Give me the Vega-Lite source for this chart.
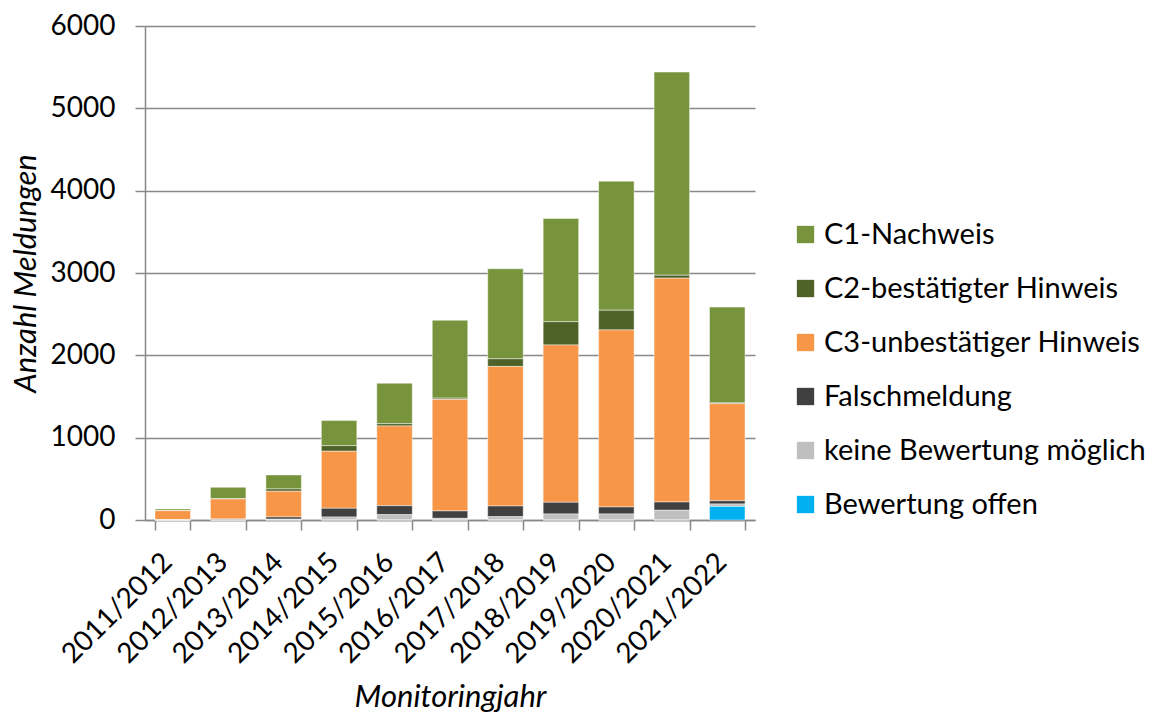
{
  "$schema": "https://vega.github.io/schema/vega-lite/v6.json",
  "width": 610,
  "height": 494,
  "autosize": "none",
  "padding": {"left": 145, "top": 26, "right": 406, "bottom": 193},
  "background": "white",
  "config": {
    "font": "Lato",
    "view": {"stroke": null},
    "axis": {
      "labelFont": "Lato",
      "titleFont": "Lato",
      "labelColor": "#000000",
      "titleColor": "#000000",
      "domainColor": "#888888",
      "tickColor": "#888888",
      "gridColor": "#888888",
      "domainWidth": 1.5,
      "tickWidth": 1.5,
      "gridWidth": 1.5
    }
  },
  "data": {
    "values": [
      {"jahr": "2011/2012", "kategorie": "C1-Nachweis", "anzahl": 20},
      {"jahr": "2011/2012", "kategorie": "C2-bestätigter Hinweis", "anzahl": 0},
      {"jahr": "2011/2012", "kategorie": "C3-unbestätiger Hinweis", "anzahl": 113},
      {"jahr": "2011/2012", "kategorie": "Falschmeldung", "anzahl": 0},
      {"jahr": "2011/2012", "kategorie": "keine Bewertung möglich", "anzahl": 0},
      {"jahr": "2011/2012", "kategorie": "Bewertung offen", "anzahl": 0},
      {"jahr": "2012/2013", "kategorie": "C1-Nachweis", "anzahl": 139},
      {"jahr": "2012/2013", "kategorie": "C2-bestätigter Hinweis", "anzahl": 3},
      {"jahr": "2012/2013", "kategorie": "C3-unbestätiger Hinweis", "anzahl": 243},
      {"jahr": "2012/2013", "kategorie": "Falschmeldung", "anzahl": 12},
      {"jahr": "2012/2013", "kategorie": "keine Bewertung möglich", "anzahl": 0},
      {"jahr": "2012/2013", "kategorie": "Bewertung offen", "anzahl": 0},
      {"jahr": "2013/2014", "kategorie": "C1-Nachweis", "anzahl": 170},
      {"jahr": "2013/2014", "kategorie": "C2-bestätigter Hinweis", "anzahl": 28},
      {"jahr": "2013/2014", "kategorie": "C3-unbestätiger Hinweis", "anzahl": 312},
      {"jahr": "2013/2014", "kategorie": "Falschmeldung", "anzahl": 27},
      {"jahr": "2013/2014", "kategorie": "keine Bewertung möglich", "anzahl": 10},
      {"jahr": "2013/2014", "kategorie": "Bewertung offen", "anzahl": 0},
      {"jahr": "2014/2015", "kategorie": "C1-Nachweis", "anzahl": 304},
      {"jahr": "2014/2015", "kategorie": "C2-bestätigter Hinweis", "anzahl": 68},
      {"jahr": "2014/2015", "kategorie": "C3-unbestätiger Hinweis", "anzahl": 693},
      {"jahr": "2014/2015", "kategorie": "Falschmeldung", "anzahl": 106},
      {"jahr": "2014/2015", "kategorie": "keine Bewertung möglich", "anzahl": 36},
      {"jahr": "2014/2015", "kategorie": "Bewertung offen", "anzahl": 0},
      {"jahr": "2015/2016", "kategorie": "C1-Nachweis", "anzahl": 491},
      {"jahr": "2015/2016", "kategorie": "C2-bestätigter Hinweis", "anzahl": 28},
      {"jahr": "2015/2016", "kategorie": "C3-unbestätiger Hinweis", "anzahl": 968},
      {"jahr": "2015/2016", "kategorie": "Falschmeldung", "anzahl": 109},
      {"jahr": "2015/2016", "kategorie": "keine Bewertung möglich", "anzahl": 65},
      {"jahr": "2015/2016", "kategorie": "Bewertung offen", "anzahl": 0},
      {"jahr": "2016/2017", "kategorie": "C1-Nachweis", "anzahl": 946},
      {"jahr": "2016/2017", "kategorie": "C2-bestätigter Hinweis", "anzahl": 15},
      {"jahr": "2016/2017", "kategorie": "C3-unbestätiger Hinweis", "anzahl": 1355},
      {"jahr": "2016/2017", "kategorie": "Falschmeldung", "anzahl": 90},
      {"jahr": "2016/2017", "kategorie": "keine Bewertung möglich", "anzahl": 20},
      {"jahr": "2016/2017", "kategorie": "Bewertung offen", "anzahl": 0},
      {"jahr": "2017/2018", "kategorie": "C1-Nachweis", "anzahl": 1093},
      {"jahr": "2017/2018", "kategorie": "C2-bestätigter Hinweis", "anzahl": 93},
      {"jahr": "2017/2018", "kategorie": "C3-unbestätiger Hinweis", "anzahl": 1695},
      {"jahr": "2017/2018", "kategorie": "Falschmeldung", "anzahl": 130},
      {"jahr": "2017/2018", "kategorie": "keine Bewertung möglich", "anzahl": 40},
      {"jahr": "2017/2018", "kategorie": "Bewertung offen", "anzahl": 0},
      {"jahr": "2018/2019", "kategorie": "C1-Nachweis", "anzahl": 1252},
      {"jahr": "2018/2019", "kategorie": "C2-bestätigter Hinweis", "anzahl": 283},
      {"jahr": "2018/2019", "kategorie": "C3-unbestätiger Hinweis", "anzahl": 1911},
      {"jahr": "2018/2019", "kategorie": "Falschmeldung", "anzahl": 142},
      {"jahr": "2018/2019", "kategorie": "keine Bewertung möglich", "anzahl": 73},
      {"jahr": "2018/2019", "kategorie": "Bewertung offen", "anzahl": 0},
      {"jahr": "2019/2020", "kategorie": "C1-Nachweis", "anzahl": 1567},
      {"jahr": "2019/2020", "kategorie": "C2-bestätigter Hinweis", "anzahl": 239},
      {"jahr": "2019/2020", "kategorie": "C3-unbestätiger Hinweis", "anzahl": 2151},
      {"jahr": "2019/2020", "kategorie": "Falschmeldung", "anzahl": 85},
      {"jahr": "2019/2020", "kategorie": "keine Bewertung möglich", "anzahl": 73},
      {"jahr": "2019/2020", "kategorie": "Bewertung offen", "anzahl": 0},
      {"jahr": "2020/2021", "kategorie": "C1-Nachweis", "anzahl": 2467},
      {"jahr": "2020/2021", "kategorie": "C2-bestätigter Hinweis", "anzahl": 36},
      {"jahr": "2020/2021", "kategorie": "C3-unbestätiger Hinweis", "anzahl": 2718},
      {"jahr": "2020/2021", "kategorie": "Falschmeldung", "anzahl": 101},
      {"jahr": "2020/2021", "kategorie": "keine Bewertung möglich", "anzahl": 118},
      {"jahr": "2020/2021", "kategorie": "Bewertung offen", "anzahl": 0},
      {"jahr": "2021/2022", "kategorie": "C1-Nachweis", "anzahl": 1163},
      {"jahr": "2021/2022", "kategorie": "C2-bestätigter Hinweis", "anzahl": 10},
      {"jahr": "2021/2022", "kategorie": "C3-unbestätiger Hinweis", "anzahl": 1179},
      {"jahr": "2021/2022", "kategorie": "Falschmeldung", "anzahl": 40},
      {"jahr": "2021/2022", "kategorie": "keine Bewertung möglich", "anzahl": 29},
      {"jahr": "2021/2022", "kategorie": "Bewertung offen", "anzahl": 165}
    ]
  },
  "transform": [
    {"calculate": "indexof(['C1-Nachweis', 'C2-bestätigter Hinweis', 'C3-unbestätiger Hinweis', 'Falschmeldung', 'keine Bewertung möglich', 'Bewertung offen'], datum.kategorie)", "as": "rang"}
  ],
  "mark": {"type": "bar", "stroke": "#ffffff", "strokeWidth": 1, "strokeOpacity": 0.45},
  "encoding": {
    "x": {
      "field": "jahr",
      "type": "nominal",
      "sort": null,
      "scale": {"paddingInner": 0.36, "paddingOuter": 0.18},
      "axis": {
        "title": "Monitoringjahr",
        "titleFontSize": 31,
        "titleFontStyle": "italic",
        "titleFontWeight": "normal",
        "titlePadding": 14,
        "labelFontSize": 28,
        "labelAngle": -45,
        "labelPadding": 18,
        "labelOffset": -15,
        "tickBand": "extent",
        "tickSize": 10,
        "grid": false
      }
    },
    "y": {
      "field": "anzahl",
      "type": "quantitative",
      "stack": "zero",
      "scale": {"domain": [0, 6000], "nice": false},
      "axis": {
        "title": "Anzahl Meldungen",
        "titleFontSize": 31,
        "titleFontStyle": "italic",
        "titleFontWeight": "normal",
        "titlePadding": 8,
        "labelFontSize": 28,
        "labelPadding": 20,
        "tickSize": 10,
        "format": "d",
        "values": [0, 1000, 2000, 3000, 4000, 5000, 6000],
        "grid": true
      }
    },
    "order": {"field": "rang", "type": "quantitative", "sort": "descending"},
    "color": {
      "field": "kategorie",
      "type": "nominal",
      "sort": ["C1-Nachweis", "C2-bestätigter Hinweis", "C3-unbestätiger Hinweis", "Falschmeldung", "keine Bewertung möglich", "Bewertung offen"],
      "scale": {
        "domain": ["C1-Nachweis", "C2-bestätigter Hinweis", "C3-unbestätiger Hinweis", "Falschmeldung", "keine Bewertung möglich", "Bewertung offen"],
        "range": ["#77933C", "#4F6228", "#F79646", "#404040", "#BFBFBF", "#00B0F0"]
      },
      "legend": {
        "title": null,
        "orient": "none",
        "legendX": 646,
        "legendY": 194,
        "symbolType": "square",
        "symbolSize": 300,
        "symbolStrokeWidth": 0,
        "labelFontSize": 29,
        "labelFont": "Lato",
        "labelColor": "#000000",
        "labelOffset": 4,
        "rowPadding": 24,
        "labelLimit": 400
      }
    }
  }
}
